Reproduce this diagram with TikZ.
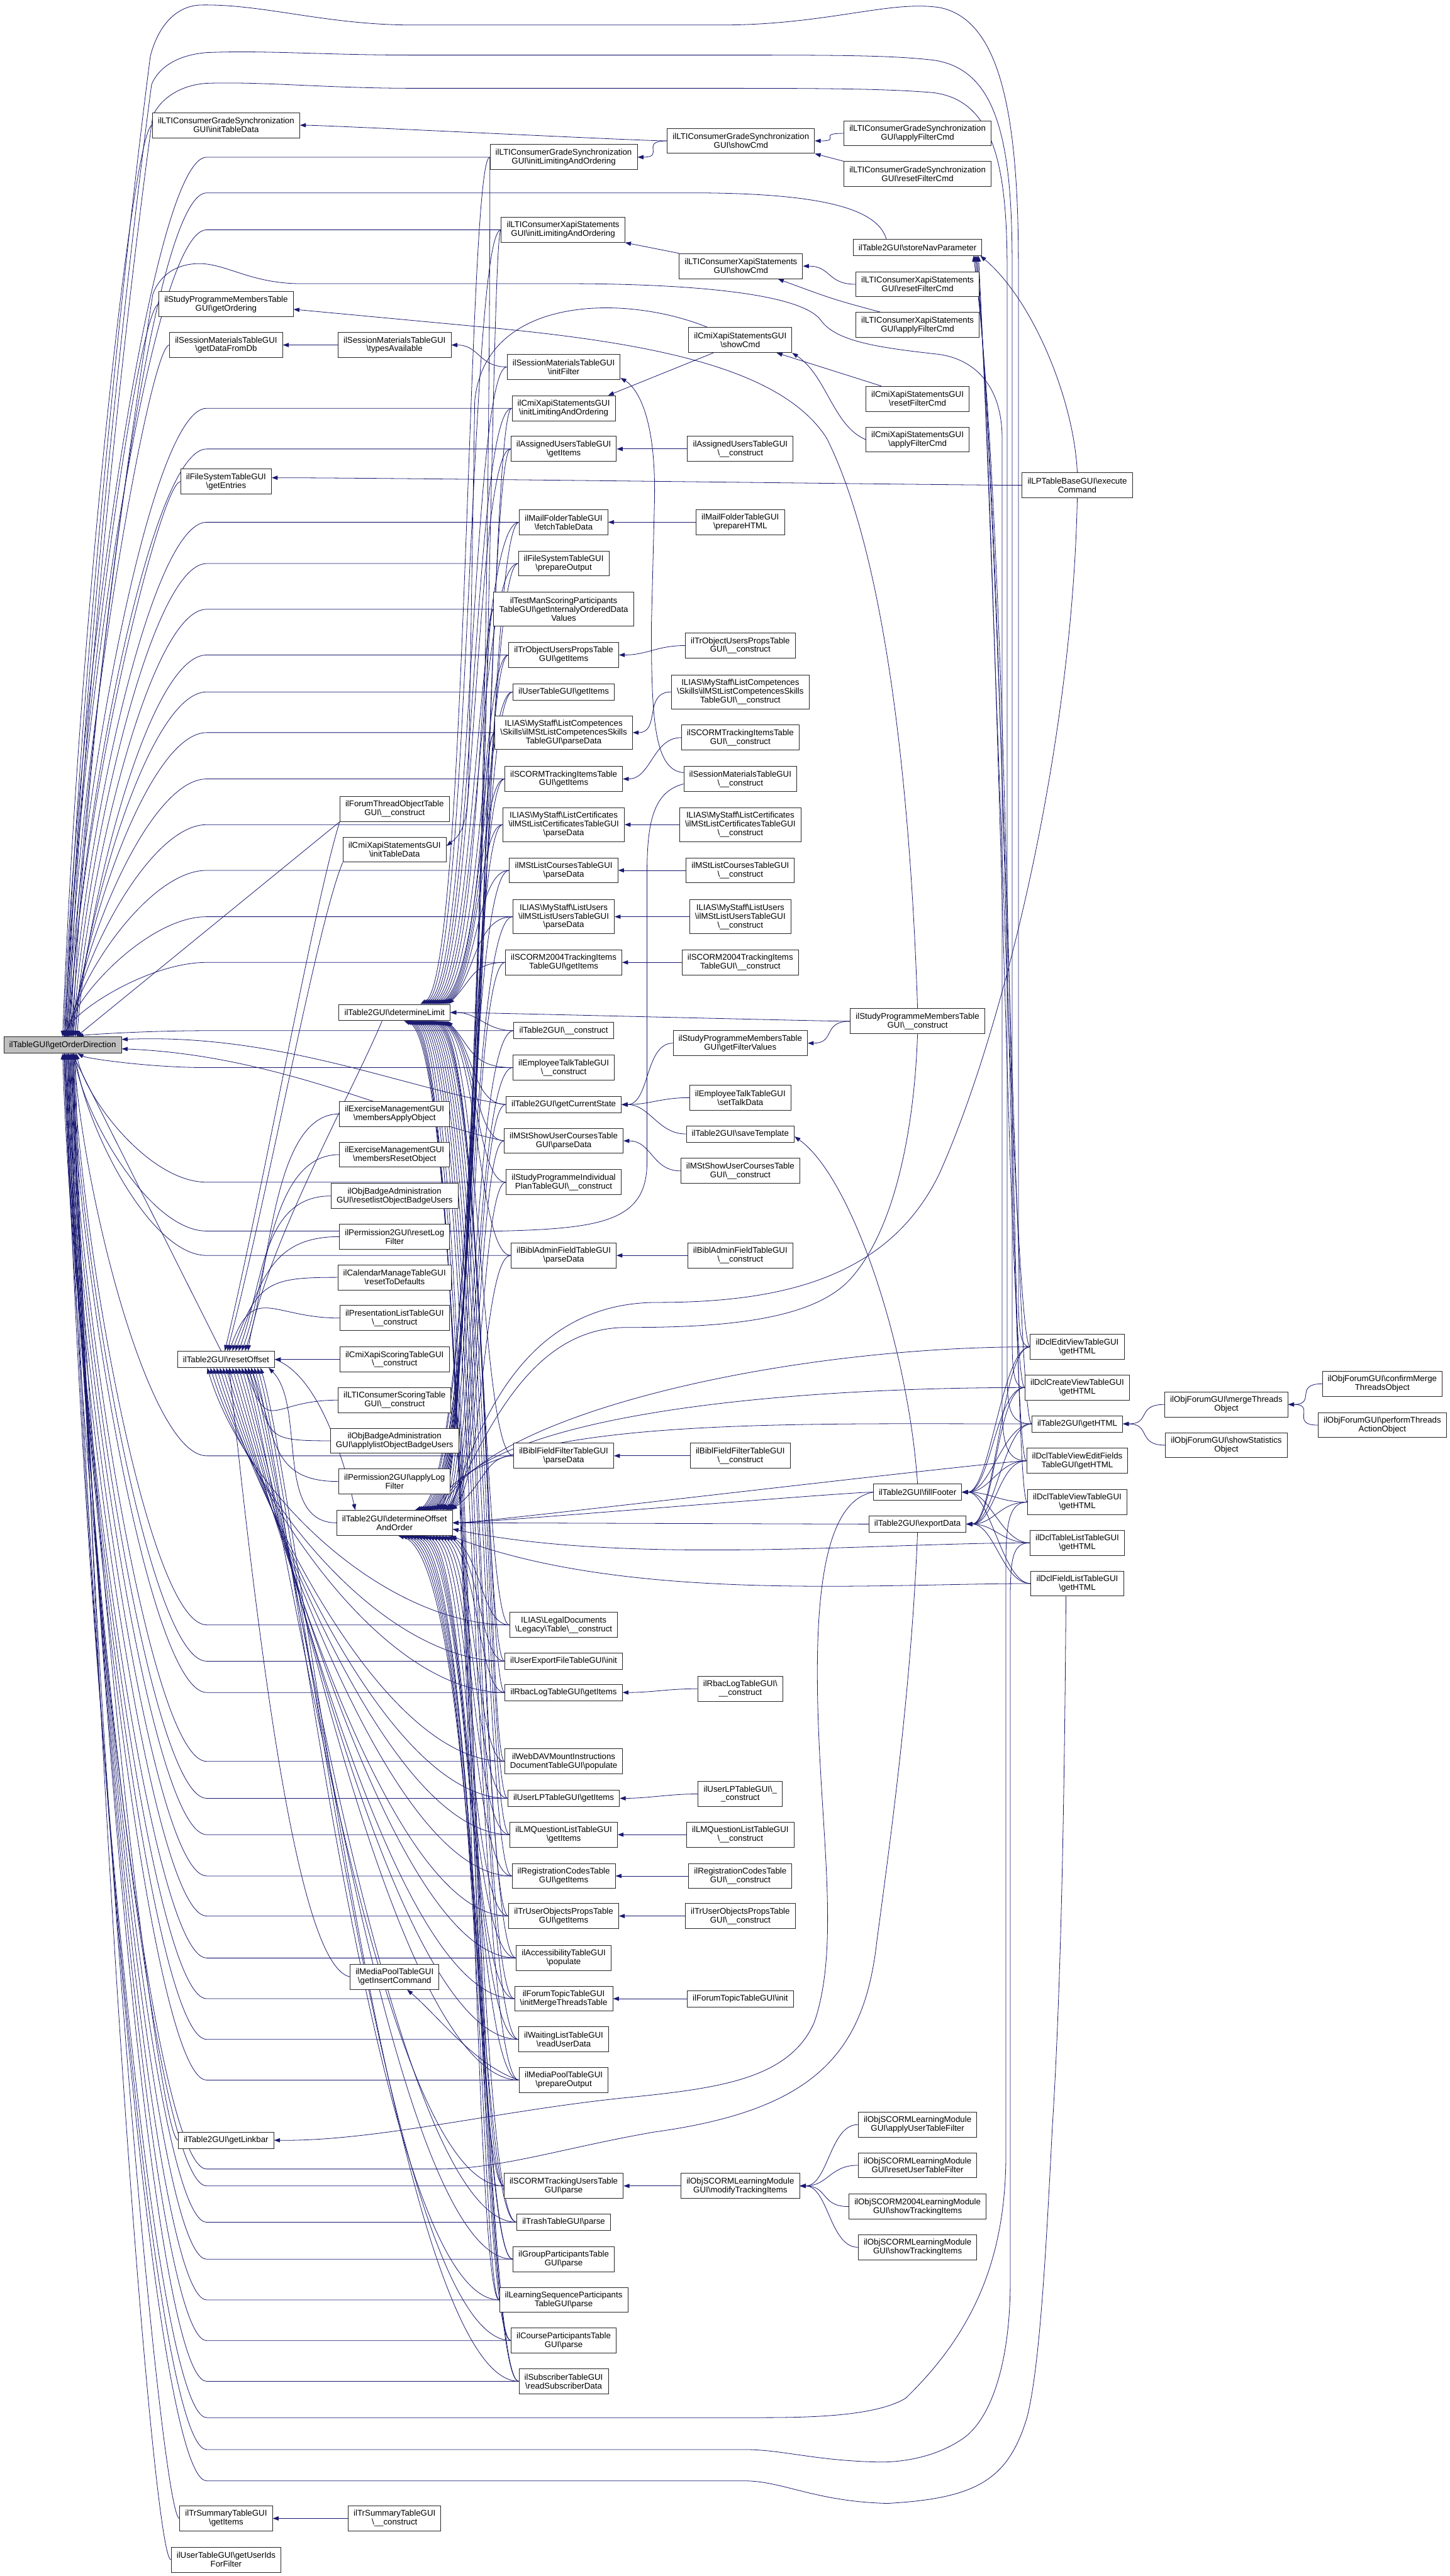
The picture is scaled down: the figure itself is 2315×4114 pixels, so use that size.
\documentclass[tikz,border=0pt]{standalone}
\usepackage{fontspec}
\setmainfont{Liberation Sans}
\usetikzlibrary{arrows.meta,calc,backgrounds}
\definecolor{edgec}{RGB}{25,25,112}
\definecolor{rootfill}{RGB}{191,191,191}
\newcommand{\BSx}{\textbackslash}
\newcommand{\UUx}{\_\_}
\tikzset{
  nd/.style={draw=black!85, fill=white, line width=0.75pt, align=center, font=\fontsize{10}{10.5}\selectfont, inner xsep=6.5pt, inner ysep=0pt},
  lA/.style={nd, minimum height=19.5pt},
  lB/.style={nd, minimum height=30pt},
  lC/.style={nd, minimum height=40.5pt},
  cg/.style={draw=edgec, line width=0.6pt, -{Triangle[length=7pt,width=5pt]}},
}
\newcommand{\cgL}[2]{\draw[cg] (#1.west) .. controls +(-45,0) and +(45,0) .. (#2.east);}
\newcommand{\cgA}[4]{\draw[cg] (#1.west) .. controls ($(#1.west -| v0)+(#4,0)$) and ($(#2.north east -| v0)+(#4,-40)$) .. ($(#2.north east)+(#3,0)$);}
\newcommand{\cgB}[4]{\draw[cg] (#1.west) .. controls ($(#1.west -| v0)+(#4,0)$) and ($(#2.south east -| v0)+(#4,40)$) .. ($(#2.south east)+(#3,0)$);}
\newcommand{\cgTop}[2]{\draw[cg] (#1) -- (#1 -| xE) .. controls (#1 -| xC) and ($(RT)!0.35!(RT |- #1)+(#2+15,0)$) .. ($(RT)+(#2,0)$);}
\newcommand{\cgBot}[2]{\draw[cg] (#1) -- (#1 -| xE) .. controls (#1 -| xC) and ($(RB)!0.35!(RB |- #1)+(#2+15,0)$) .. ($(RB)+(#2,0)$);}
\newcommand{\cgCTop}[2]{\draw[cg] (#1.west) .. controls +(-30,0) and ($(RT)!0.45!(RT |- #1.west)+(#2+25,0)$) .. ($(RT)+(#2,0)$);}
\newcommand{\cgCBot}[2]{\draw[cg] (#1.west) .. controls +(-30,0) and ($(RB)!0.45!(RB |- #1.west)+(#2+25,0)$) .. ($(RB)+(#2,0)$);}
\newcommand{\cgRa}[2]{\draw[cg] (#1.west) .. controls +(-110,0) and +(40,-110) .. ($(resetOff.north)+(#2,0)$);}
\newcommand{\cgRb}[2]{\draw[cg] (#1.west) .. controls +(-110,0) and +(40,110) .. ($(resetOff.south)+(#2,0)$);}
\newcommand{\cgRB}[2]{\draw[cg] (#1.west) .. controls +(-200,0) and +(60,200) .. ($(resetOff.south)+(#2,0)$);}
\newcommand{\cgDO}[2]{\draw[cg] (#1.west) .. controls +(-400,0) and +(60,-150) .. ($(detOff.north east)+(#2,0)$);}
\newcommand{\cgSN}[3]{\draw[cg] (#1.west) .. controls +(-25,0) and (#3,900) .. ($(storeNav.south east)+(#2,0)$);}

\begin{document}
\begin{tikzpicture}[x=0.75pt,y=-0.75pt]
\useasboundingbox (0,0) rectangle (2315,4114);
% ---------------- column 0
\node[lA, fill=rootfill] (rootN) at (100,1669) {ilTableGUI\BSx getOrderDirection};
% ---------------- column 1
\node[lB] (ltiInitTD) at (361,200) {ilLTIConsumerGradeSynchronization\\GUI\BSx initTableData};
\node[lB] (spmOrd) at (361,486) {ilStudyProgrammeMembersTable\\GUI\BSx getOrdering};
\node[lB] (smData) at (361,551) {ilSessionMaterialsTableGUI\\\BSx getDataFromDb};
\node[lB] (fsEnt) at (361,769) {ilFileSystemTableGUI\\\BSx getEntries};
\node[lA] (resetOff) at (361,2171) {ilTable2GUI\BSx resetOffset};
\node[lA] (linkbar) at (361,3418) {ilTable2GUI\BSx getLinkbar};
\node[lB] (trsItems) at (361,4022) {ilTrSummaryTableGUI\\\BSx getItems};
\node[lB] (utUids) at (361,4088) {ilUserTableGUI\BSx getUserIds\\ForFilter};
% ---------------- column 2
\node[lB] (smTypes) at (630,551) {ilSessionMaterialsTableGUI\\\BSx typesAvailable};
\node[lB] (ftot) at (630,1292) {ilForumThreadObjectTable\\GUI\BSx\UUx construct};
\node[lB] (cmiTD) at (630,1357) {ilCmiXapiStatementsGUI\\\BSx initTableData};
\node[lA] (detLimit) at (630,1617) {ilTable2GUI\BSx determineLimit};
\node[lB] (exApply) at (630,1779) {ilExerciseManagementGUI\\\BSx membersApplyObject};
\node[lB] (exReset) at (630,1844) {ilExerciseManagementGUI\\\BSx membersResetObject};
\node[lB] (bdgReset) at (630,1910) {ilObjBadgeAdministration\\GUI\BSx resetlistObjectBadgeUsers};
\node[lB] (permReset) at (630,1975) {ilPermission2GUI\BSx resetLog\\Filter};
\node[lB] (calReset) at (630,2040) {ilCalendarManageTableGUI\\\BSx resetToDefaults};
\node[lB] (presList) at (630,2105) {ilPresentationListTableGUI\\\BSx\UUx construct};
\node[lB] (cmiScore) at (630,2171) {ilCmiXapiScoringTableGUI\\\BSx\UUx construct};
\node[lB] (ltiScore) at (630,2236) {ilLTIConsumerScoringTable\\GUI\BSx\UUx construct};
\node[lB] (bdgApply) at (630,2301) {ilObjBadgeAdministration\\GUI\BSx applylistObjectBadgeUsers};
\node[lB] (permApply) at (630,2366) {ilPermission2GUI\BSx applyLog\\Filter};
\node[lB] (detOff) at (630,2432) {ilTable2GUI\BSx determineOffset\\AndOrder};
\node[lB] (mpInsert) at (630,3157) {ilMediaPoolTableGUI\\\BSx getInsertCommand};
\node[lB] (trsCons) at (630,4022) {ilTrSummaryTableGUI\\\BSx\UUx construct};
% ---------------- column 3
\node[lB] (ltiLim) at (900,251) {ilLTIConsumerGradeSynchronization\\GUI\BSx initLimitingAndOrdering};
\node[lB] (ltixLim) at (899,367) {ilLTIConsumerXapiStatements\\GUI\BSx initLimitingAndOrdering};
\node[lB] (smFilter) at (900,586) {ilSessionMaterialsTableGUI\\\BSx initFilter};
\node[lB] (cmiLim) at (900,652) {ilCmiXapiStatementsGUI\\\BSx initLimitingAndOrdering};
\node[lB] (auItems) at (900,717) {ilAssignedUsersTableGUI\\\BSx getItems};
\node[lB] (mfFetch) at (900,834) {ilMailFolderTableGUI\\\BSx fetchTableData};
\node[lB] (fsPrep) at (900,900) {ilFileSystemTableGUI\\\BSx prepareOutput};
\node[lC] (tms) at (900,973) {ilTestManScoringParticipants\\TableGUI\BSx getInternalyOrderedData\\Values};
\node[lB] (trouItems) at (900,1046) {ilTrObjectUsersPropsTable\\GUI\BSx getItems};
\node[lA] (utItems) at (900,1105) {ilUserTableGUI\BSx getItems};
\node[lC] (compParse) at (900,1170) {ILIAS\BSx MyStaff\BSx ListCompetences\\\BSx Skills\BSx ilMStListCompetencesSkills\\TableGUI\BSx parseData};
\node[lB] (sctiItems) at (900,1244) {ilSCORMTrackingItemsTable\\GUI\BSx getItems};
\node[lC] (certParse) at (900,1317) {ILIAS\BSx MyStaff\BSx ListCertificates\\\BSx ilMStListCertificatesTableGUI\\\BSx parseData};
\node[lB] (coursesParse) at (900,1390) {ilMStListCoursesTableGUI\\\BSx parseData};
\node[lC] (usersParse) at (900,1464) {ILIAS\BSx MyStaff\BSx ListUsers\\\BSx ilMStListUsersTableGUI\\\BSx parseData};
\node[lB] (s04Items) at (900,1537) {ilSCORM2004TrackingItems\\TableGUI\BSx getItems};
\node[lA] (t2Cons) at (900,1646) {ilTable2GUI\BSx\UUx construct};
\node[lB] (etCons) at (900,1705) {ilEmployeeTalkTableGUI\\\BSx\UUx construct};
\node[lA] (curState) at (900,1764) {ilTable2GUI\BSx getCurrentState};
\node[lB] (msucParse) at (900,1822) {ilMStShowUserCoursesTable\\GUI\BSx parseData};
\node[lB] (spip) at (900,1888) {ilStudyProgrammeIndividual\\PlanTableGUI\BSx\UUx construct};
\node[lB] (bafParse) at (900,2005) {ilBiblAdminFieldTableGUI\\\BSx parseData};
\node[lB] (bffParse) at (900,2325) {ilBiblFieldFilterTableGUI\\\BSx parseData};
\node[lB] (legal) at (900,2595) {ILIAS\BSx LegalDocuments\\\BSx Legacy\BSx Table\BSx\UUx construct};
\node[lA] (uefInit) at (900,2653) {ilUserExportFileTableGUI\BSx init};
\node[lA] (rbacItems) at (900,2703) {ilRbacLogTableGUI\BSx getItems};
\node[lB] (webdav) at (900,2813) {ilWebDAVMountInstructions\\DocumentTableGUI\BSx populate};
\node[lA] (ulpItems) at (900,2872) {ilUserLPTableGUI\BSx getItems};
\node[lB] (lmqItems) at (900,2930) {ilLMQuestionListTableGUI\\\BSx getItems};
\node[lB] (rcItems) at (900,2996) {ilRegistrationCodesTable\\GUI\BSx getItems};
\node[lB] (truoItems) at (900,3060) {ilTrUserObjectsPropsTable\\GUI\BSx getItems};
\node[lB] (accPop) at (900,3127) {ilAccessibilityTableGUI\\\BSx populate};
\node[lB] (fttMerge) at (900,3192) {ilForumTopicTableGUI\\\BSx initMergeThreadsTable};
\node[lB] (wlRead) at (900,3257) {ilWaitingListTableGUI\\\BSx readUserData};
\node[lB] (mpPrep) at (900,3322) {ilMediaPoolTableGUI\\\BSx prepareOutput};
\node[lB] (sctuParse) at (900,3491) {ilSCORMTrackingUsersTable\\GUI\BSx parse};
\node[lA] (trashParse) at (900,3549) {ilTrashTableGUI\BSx parse};
\node[lB] (gpParse) at (900,3608) {ilGroupParticipantsTable\\GUI\BSx parse};
\node[lB] (lspParse) at (900,3673) {ilLearningSequenceParticipants\\TableGUI\BSx parse};
\node[lB] (cpParse) at (900,3738) {ilCourseParticipantsTable\\GUI\BSx parse};
\node[lB] (subRead) at (900,3803) {ilSubscriberTableGUI\\\BSx readSubscriberData};
% ---------------- column 4
\node[lB] (ltiShow) at (1183,225) {ilLTIConsumerGradeSynchronization\\GUI\BSx showCmd};
\node[lB] (ltixShow) at (1183,425) {ilLTIConsumerXapiStatements\\GUI\BSx showCmd};
\node[lB] (cmiShow) at (1182,543) {ilCmiXapiStatementsGUI\\\BSx showCmd};
\node[lB] (auCons) at (1182,717) {ilAssignedUsersTableGUI\\\BSx\UUx construct};
\node[lB] (mfPrep) at (1182,834) {ilMailFolderTableGUI\\\BSx prepareHTML};
\node[lB] (trouCons) at (1182,1031) {ilTrObjectUsersPropsTable\\GUI\BSx\UUx construct};
\node[lC] (compCons) at (1182,1105) {ILIAS\BSx MyStaff\BSx ListCompetences\\\BSx Skills\BSx ilMStListCompetencesSkills\\TableGUI\BSx\UUx construct};
\node[lB] (sctiCons) at (1182,1178) {ilSCORMTrackingItemsTable\\GUI\BSx\UUx construct};
\node[lB] (smCons) at (1182,1244) {ilSessionMaterialsTableGUI\\\BSx\UUx construct};
\node[lC] (certCons) at (1182,1317) {ILIAS\BSx MyStaff\BSx ListCertificates\\\BSx ilMStListCertificatesTableGUI\\\BSx\UUx construct};
\node[lB] (coursesCons) at (1182,1390) {ilMStListCoursesTableGUI\\\BSx\UUx construct};
\node[lC] (usersCons) at (1182,1464) {ILIAS\BSx MyStaff\BSx ListUsers\\\BSx ilMStListUsersTableGUI\\\BSx\UUx construct};
\node[lB] (s04Cons) at (1182,1537) {ilSCORM2004TrackingItems\\TableGUI\BSx\UUx construct};
\node[lB] (spmFilter) at (1182,1666) {ilStudyProgrammeMembersTable\\GUI\BSx getFilterValues};
\node[lB] (etTalk) at (1182,1753) {ilEmployeeTalkTableGUI\\\BSx setTalkData};
\node[lA] (saveTpl) at (1182,1811) {ilTable2GUI\BSx saveTemplate};
\node[lB] (msucCons) at (1182,1870) {ilMStShowUserCoursesTable\\GUI\BSx\UUx construct};
\node[lB] (bafCons) at (1182,2005) {ilBiblAdminFieldTableGUI\\\BSx\UUx construct};
\node[lB] (bffCons) at (1182,2325) {ilBiblFieldFilterTableGUI\\\BSx\UUx construct};
\node[lB] (rbacCons) at (1182,2697) {ilRbacLogTableGUI\BSx\\\UUx construct};
\node[lB] (ulpCons) at (1182,2865) {ilUserLPTableGUI\BSx\_\\\_construct};
\node[lB] (lmqCons) at (1182,2930) {ilLMQuestionListTableGUI\\\BSx\UUx construct};
\node[lB] (rcCons) at (1182,2996) {ilRegistrationCodesTable\\GUI\BSx\UUx construct};
\node[lB] (truoCons) at (1182,3060) {ilTrUserObjectsPropsTable\\GUI\BSx\UUx construct};
\node[lA] (fttInit) at (1182,3192) {ilForumTopicTableGUI\BSx init};
\node[lB] (scModify) at (1182,3491) {ilObjSCORMLearningModule\\GUI\BSx modifyTrackingItems};
% ---------------- column 5
\node[lB] (ltiApply) at (1465,213) {ilLTIConsumerGradeSynchronization\\GUI\BSx applyFilterCmd};
\node[lB] (ltiReset) at (1465,278) {ilLTIConsumerGradeSynchronization\\GUI\BSx resetFilterCmd};
\node[lA] (storeNav) at (1465,395) {ilTable2GUI\BSx storeNavParameter};
\node[lB] (ltixReset) at (1465,454) {ilLTIConsumerXapiStatements\\GUI\BSx resetFilterCmd};
\node[lB] (ltixApply) at (1465,519) {ilLTIConsumerXapiStatements\\GUI\BSx applyFilterCmd};
\node[lB] (cmiReset) at (1465,637) {ilCmiXapiStatementsGUI\\\BSx resetFilterCmd};
\node[lB] (cmiApply) at (1465,702) {ilCmiXapiStatementsGUI\\\BSx applyFilterCmd};
\node[lB] (spmCons) at (1465,1631) {ilStudyProgrammeMembersTable\\GUI\BSx\UUx construct};
\node[lA] (fillFooter) at (1465,2383) {ilTable2GUI\BSx fillFooter};
\node[lA] (exportData) at (1465,2434) {ilTable2GUI\BSx exportData};
\node[lB] (scApplyF) at (1465,3393) {ilObjSCORMLearningModule\\GUI\BSx applyUserTableFilter};
\node[lB] (scResetF) at (1465,3458) {ilObjSCORMLearningModule\\GUI\BSx resetUserTableFilter};
\node[lB] (sc04Show) at (1465,3524) {ilObjSCORM2004LearningModule\\GUI\BSx showTrackingItems};
\node[lB] (scShow) at (1465,3589) {ilObjSCORMLearningModule\\GUI\BSx showTrackingItems};
% ---------------- column 6
\node[lB] (lpExec) at (1720,775) {ilLPTableBaseGUI\BSx execute\\Command};
\node[lB] (dclEdit) at (1720,2151) {ilDclEditViewTableGUI\\\BSx getHTML};
\node[lB] (dclCreate) at (1720,2216) {ilDclCreateViewTableGUI\\\BSx getHTML};
\node[lA] (getHTML) at (1720,2274) {ilTable2GUI\BSx getHTML};
\node[lB] (dclTVEF) at (1720,2333) {ilDclTableViewEditFields\\TableGUI\BSx getHTML};
\node[lB] (dclTV) at (1720,2399) {ilDclTableViewTableGUI\\\BSx getHTML};
\node[lB] (dclTL) at (1720,2464) {ilDclTableListTableGUI\\\BSx getHTML};
\node[lB] (dclFL) at (1720,2529) {ilDclFieldListTableGUI\\\BSx getHTML};
% ---------------- column 7/8
\node[lB] (fMerge) at (1958,2243) {ilObjForumGUI\BSx mergeThreads\\Object};
\node[lB] (fStats) at (1958,2308) {ilObjForumGUI\BSx showStatistics\\Object};
\node[lB] (fConfirm) at (2207,2210) {ilObjForumGUI\BSx confirmMerge\\ThreadsObject};
\node[lB] (fPerform) at (2207,2276) {ilObjForumGUI\BSx performThreads\\ActionObject};

\coordinate (RT) at (rootN.north);
\coordinate (RB) at (rootN.south);
\coordinate (xE) at (330,0);
\coordinate (xC) at (238,0);
\coordinate (v0) at (0,0);

\begin{pgfonlayer}{background}
\fill[white] (0,0) rectangle (2315,4114);
% ===== local chains
\cgL{ltiShow}{ltiInitTD}
\cgL{ltiShow}{ltiLim}
\cgL{ltiApply}{ltiShow}
\draw[cg] (ltiReset.north west) -- (ltiShow.south east);
\draw[cg] (ltixShow.north west) -- (ltixLim.south east);
\cgL{ltixReset}{ltixShow}
\draw[cg] ($(ltixApply.north west)+(40,0)$) .. controls (1330,478) .. ($(ltixShow.south east)+(-40,0)$);
\draw[cg] ($(cmiShow.south west)+(40,0)$) -- ($(cmiLim.north east)+(-12,0)$);
\draw[cg] ($(cmiReset.north west)+(25,0)$) -- ($(cmiShow.south east)+(-25,0)$);
\draw[cg] (cmiApply.west) .. controls (1330,680) and (1320,600) .. (cmiShow.south east);
\draw[cg] ($(cmiShow.north west)+(30,0)$) .. controls (1000,470) and (775,470) .. (758,640) -- (748,1250) .. controls (746,1310) and (740,1330) .. ($(cmiTD.east)+(0,-6)$);
\draw[cg] (spmCons.north) .. controls (1455,1300) and (1420,900) .. (1320,700) .. controls (1250,590) and (1050,550) .. (800,525) -- ($(spmOrd.east)+(0,8)$);
\cgL{smTypes}{smData}
\cgL{smFilter}{smTypes}
\draw[cg] ($(smCons.west)+(0,-10)$) .. controls (1045,1230) and (1040,1150) .. (1040,1000) -- (1045,800) .. controls (1048,650) and (1010,615) .. ($(smFilter.south east)+(0,-3)$);
\draw[cg] ($(smCons.west)+(0,8)$) .. controls (1040,1265) and (1033,1320) .. (1033,1400) -- (1033,1860) .. controls (1031,1950) and (960,1962) .. (800,1966) -- (330,1966) .. controls (238,1966) and (133,1781) .. ($(RB)+(18,0)$);
\cgL{auCons}{auItems}
\cgL{mfPrep}{mfFetch}
\cgL{trouCons}{trouItems}
\cgL{compCons}{compParse}
\cgL{sctiCons}{sctiItems}
\cgL{certCons}{certParse}
\cgL{coursesCons}{coursesParse}
\cgL{usersCons}{usersParse}
\cgL{s04Cons}{s04Items}
\cgL{spmFilter}{curState}
\cgL{spmCons}{spmFilter}
\cgL{etTalk}{curState}
\cgL{saveTpl}{curState}
\cgL{msucCons}{msucParse}
\cgL{bafCons}{bafParse}
\cgL{bffCons}{bffParse}
\cgL{rbacCons}{rbacItems}
\cgL{ulpCons}{ulpItems}
\cgL{lmqCons}{lmqItems}
\cgL{rcCons}{rcItems}
\cgL{truoCons}{truoItems}
\cgL{fttInit}{fttMerge}
\cgL{scModify}{sctuParse}
\cgL{scApplyF}{scModify}
\cgL{scResetF}{scModify}
\cgL{sc04Show}{scModify}
\cgL{scShow}{scModify}
\cgL{trsCons}{trsItems}
\cgL{fMerge}{getHTML}
\cgL{fStats}{getHTML}
\cgL{fConfirm}{fMerge}
\cgL{fPerform}{fMerge}
\cgL{spmCons}{detLimit}
\cgL{t2Cons}{detLimit}
\draw[cg] (mpPrep.west) .. controls (760,3300) and (700,3220) .. ($(mpInsert.south)+(20,0)$);
\draw[cg] (fillFooter.north) .. controls (1450,2150) and (1360,1880) .. ($(saveTpl.east)+(0,4)$);
% ===== far right
\draw[cg] (lpExec.north) .. controls (1715,640) and (1650,480) .. ($(storeNav.south east)+(-3,0)$);
\draw[cg] (lpExec.west) .. controls +(-100,0) and +(200,0) .. ($(fsEnt.east)+(0,-6)$);
\draw[cg] (lpExec.south) .. controls (1712,1200) and (1600,1650) .. (1500,1874) .. controls (1420,2040) and (1250,2080) .. (1050,2080) .. controls (850,2080) and (770,2250) .. ($(detOff.north east)+(-3,0)$);
\draw[cg] (spmCons.south) .. controls (1460,1800) and (1430,1960) .. (1360,2040) .. controls (1300,2110) and (1150,2120) .. (1000,2120) .. controls (850,2120) and (780,2280) .. ($(detOff.north east)+(-8,0)$);
\cgSN{dclEdit}{-6}{1588}
\cgSN{dclCreate}{-8}{1595}
\cgSN{getHTML}{-10}{1602}
\cgSN{dclTVEF}{-12}{1610}
\cgSN{dclTV}{-14}{1618}
\foreach \nn in {dclEdit,dclCreate,getHTML,dclTVEF,dclTV,dclTL,dclFL} {
  \cgL{\nn}{fillFooter}
  \cgL{\nn}{exportData}
}
\cgL{fillFooter}{detOff}
\cgL{exportData}{detOff}
\cgDO{dclEdit}{-15}
\cgDO{dclCreate}{-20}
\cgDO{getHTML}{-25}
\cgL{dclTVEF}{detOff}
\draw[cg] (dclTL.west) .. controls (1400,2464) and (1000,2500) .. ($(detOff.east)+(0,10)$);
\draw[cg] (dclFL.west) .. controls (1400,2529) and (1000,2560) .. ($(detOff.south east)+(-4,0)$);
\draw[cg] (fillFooter.west) .. controls (1330,2395) and (1305,2500) .. (1305,2670) .. controls (1305,2900) and (1345,3100) .. (1300,3230) .. controls (1260,3320) and (1150,3335) .. (1000,3350) .. controls (800,3370) and (600,3420) .. (linkbar.east);
\draw[cg] (exportData.south) .. controls (1455,2700) and (1420,2950) .. (1400,3100) .. controls (1380,3280) and (1300,3370) .. (1044,3405) .. controls (900,3430) and (800,3464) .. (700,3464) -- (330,3464) .. controls (238,3464) and (118,2306) .. ($(RB)+(3,0)$);
% over the top
\draw[cg] (dclEdit.west) .. controls (1628,2151) and (1626,2120) .. (1626,2060) -- (1626,420) .. controls (1626,160) and (1590,30) .. (1500,12) .. controls (1420,0) and (1320,40) .. (1150,40) -- (660,40) .. controls (520,40) and (420,6) .. (320,8) .. controls (275,10) and (250,50) .. (240,90) .. controls (200,400) and (125,1100) .. ($(RT)+(4,0)$);
\draw[cg] (dclCreate.west) .. controls (1618,2216) and (1616,2190) .. (1616,2130) -- (1616,420) .. controls (1616,220) and (1590,110) .. (1490,96) .. controls (1420,88) and (1330,88) .. (1150,88) -- (660,88) .. controls (520,88) and (420,80) .. (330,84) .. controls (280,88) and (252,110) .. (242,135) .. controls (200,450) and (125,1150) .. ($(RT)+(7,0)$);
\draw[cg] (getHTML.west) .. controls (1612,2274) and (1608,2250) .. (1608,2190) -- (1608,430) .. controls (1608,260) and (1585,160) .. (1490,148) .. controls (1420,142) and (1330,141) .. (1150,141) -- (660,141) .. controls (520,141) and (420,130) .. (330,133) .. controls (285,136) and (255,160) .. (244,185) .. controls (200,500) and (125,1200) .. ($(RT)+(10,0)$);
\draw[cg] (dclTVEF.west) .. controls (1605,2333) and (1600,2300) .. (1600,2240) -- (1600,700) .. controls (1600,620) and (1560,575) .. (1500,566) .. controls (1400,555) and (1335,545) .. (1311,512) .. controls (1280,468) and (1100,453) .. (900,453) -- (480,453) .. controls (400,453) and (360,420) .. (316,421) .. controls (280,422) and (255,440) .. (244,470) .. controls (200,750) and (125,1300) .. ($(RT)+(13,0)$);
\draw[cg] ($(storeNav.north)+(-50,0)$) .. controls (1400,330) and (1300,308) .. (1100,308) -- (330,308) .. controls (238,308) and (135,1184) .. ($(RT)+(16,0)$);
% under the bottom
\draw[cg] (dclTV.west) .. controls (1612,2399) and (1606,2430) .. (1606,2500) -- (1606,3450) .. controls (1604,3600) and (1560,3720) .. (1446,3830) .. controls (1400,3858) and (1300,3861) .. (1217,3861) -- (330,3861) .. controls (238,3861) and (121,2445) .. ($(RB)+(6,0)$);
\draw[cg] (dclTL.west) .. controls (1616,2464) and (1613,2490) .. (1613,2560) -- (1613,3650) .. controls (1612,3780) and (1580,3870) .. (1532,3898) .. controls (1490,3925) and (1440,3932) .. (1406,3932) .. controls (1300,3930) and (1250,3912) .. (1188,3912) -- (330,3912) .. controls (238,3912) and (124,2463) .. ($(RB)+(9,0)$);
\draw[cg] ($(dclFL.south)+(-18,0)$) .. controls (1700,2800) and (1696,3150) .. (1680,3400) .. controls (1670,3600) and (1660,3780) .. (1640,3860) .. controls (1610,3960) and (1560,3990) .. (1417,3998) .. controls (1300,3995) and (1250,3962) .. (1188,3962) -- (330,3962) .. controls (238,3962) and (127,2480) .. ($(RB)+(12,0)$);
% ===== column 1 to root
\cgCTop{ltiInitTD}{0}
\cgCTop{spmOrd}{3}
\cgCTop{smData}{6}
\cgCTop{fsEnt}{9}
\cgCBot{linkbar}{14}
\cgCBot{trsItems}{17}
\cgCBot{utUids}{20}
\draw[cg] ($(resetOff.north)+(-8,0)$) -- ($(RB)+(15,0)$);
\draw[cg] (ftot.south west) -- ($(RT)+(22,0)$);
\draw[cg] (curState.west) .. controls (650,1740) and (450,1650) .. ($(rootN.east)+(0,-9)$);
\draw[cg] (msucParse.west) .. controls (650,1790) and (450,1685) .. ($(rootN.east)+(0,6)$);
% ===== column 3 to root (top)
\cgTop{ltiLim.west}{2}
\cgTop{ltixLim.west}{5}
\cgTop{cmiLim.west}{8}
\cgTop{auItems.west}{11}
\cgTop{mfFetch.west}{14}
\cgTop{fsPrep.west}{17}
\cgTop{tms.west}{20}
\cgTop{trouItems.west}{23}
\cgTop{utItems.west}{20}
\cgTop{compParse.west}{17}
\cgTop{sctiItems.west}{14}
\cgTop{certParse.west}{11}
\cgTop{coursesParse.west}{8}
\cgTop{usersParse.west}{5}
\cgTop{s04Items.west}{2}
\cgTop{t2Cons.west}{24}
% ===== column 3 to root (bottom)
\cgBot{etCons.west}{24}
\cgBot{spip.west}{22}
\cgBot{bafParse.west}{20}
\cgBot{bffParse.west}{18}
\cgBot{legal.west}{16}
\cgBot{uefInit.west}{14}
\cgBot{rbacItems.west}{12}
\cgBot{webdav.west}{10}
\cgBot{ulpItems.west}{8}
\cgBot{lmqItems.west}{6}
\cgBot{rcItems.west}{4}
\cgBot{truoItems.west}{2}
\cgBot{accPop.west}{0}
\cgBot{fttMerge.west}{2}
\cgBot{wlRead.west}{4}
\cgBot{mpPrep.west}{6}
\cgBot{sctuParse.west}{8}
\cgBot{trashParse.west}{10}
\cgBot{gpParse.west}{12}
\cgBot{lspParse.west}{14}
\cgBot{cpParse.west}{16}
\cgBot{subRead.west}{18}
% ===== to determineLimit
\cgA{ltiLim}{detLimit}{-48}{746}
\cgA{ltixLim}{detLimit}{-45}{749}
\cgA{smFilter}{detLimit}{-42}{752}
\cgA{cmiLim}{detLimit}{-39}{755}
\cgA{auItems}{detLimit}{-36}{758}
\cgA{mfFetch}{detLimit}{-33}{761}
\cgA{fsPrep}{detLimit}{-30}{764}
\cgA{tms}{detLimit}{-27}{767}
\cgA{trouItems}{detLimit}{-24}{770}
\cgA{utItems}{detLimit}{-21}{773}
\cgA{compParse}{detLimit}{-18}{770}
\cgA{sctiItems}{detLimit}{-15}{767}
\cgA{certParse}{detLimit}{-12}{764}
\cgA{coursesParse}{detLimit}{-9}{761}
\cgA{usersParse}{detLimit}{-6}{758}
\cgA{s04Items}{detLimit}{-3}{755}
\cgB{etCons}{detLimit}{-5}{752}
\cgB{curState}{detLimit}{-8}{755}
\cgB{msucParse}{detLimit}{-11}{758}
\cgB{spip}{detLimit}{-14}{761}
\cgB{bafParse}{detLimit}{-17}{764}
\cgB{bffParse}{detLimit}{-20}{767}
\cgB{legal}{detLimit}{-23}{770}
\cgB{uefInit}{detLimit}{-26}{773}
\cgB{rbacItems}{detLimit}{-29}{776}
\cgB{webdav}{detLimit}{-32}{779}
\cgB{ulpItems}{detLimit}{-35}{776}
\cgB{lmqItems}{detLimit}{-38}{773}
\cgB{rcItems}{detLimit}{-41}{770}
\cgB{truoItems}{detLimit}{-44}{767}
\cgB{accPop}{detLimit}{-47}{764}
\cgB{fttMerge}{detLimit}{-50}{761}
\cgB{wlRead}{detLimit}{-53}{758}
\cgB{mpPrep}{detLimit}{-56}{755}
\cgB{sctuParse}{detLimit}{-59}{752}
\cgB{trashParse}{detLimit}{-62}{749}
\cgB{gpParse}{detLimit}{-65}{746}
\cgB{lspParse}{detLimit}{-68}{749}
\cgB{cpParse}{detLimit}{-71}{752}
\cgB{subRead}{detLimit}{-74}{755}
% ===== to determineOffsetAndOrder
\cgA{ltiLim}{detOff}{-60}{783}
\cgA{ltixLim}{detOff}{-57}{780}
\cgA{cmiLim}{detOff}{-54}{777}
\cgA{auItems}{detOff}{-51}{774}
\cgA{mfFetch}{detOff}{-48}{771}
\cgA{fsPrep}{detOff}{-45}{768}
\cgA{tms}{detOff}{-42}{765}
\cgA{trouItems}{detOff}{-39}{762}
\cgA{utItems}{detOff}{-36}{759}
\cgA{compParse}{detOff}{-33}{756}
\cgA{sctiItems}{detOff}{-30}{753}
\cgA{certParse}{detOff}{-27}{750}
\cgA{coursesParse}{detOff}{-24}{747}
\cgA{usersParse}{detOff}{-21}{750}
\cgA{s04Items}{detOff}{-18}{753}
\cgA{t2Cons}{detOff}{-15}{756}
\cgA{etCons}{detOff}{-12}{759}
\cgA{curState}{detOff}{-10}{762}
\cgA{msucParse}{detOff}{-8}{765}
\cgA{spip}{detOff}{-6}{768}
\cgA{bafParse}{detOff}{-4}{771}
\cgA{bffParse}{detOff}{-2}{774}
\cgB{legal}{detOff}{-2}{770}
\cgB{uefInit}{detOff}{-7}{767}
\cgB{rbacItems}{detOff}{-12}{764}
\cgB{webdav}{detOff}{-17}{761}
\cgB{ulpItems}{detOff}{-22}{758}
\cgB{lmqItems}{detOff}{-27}{755}
\cgB{rcItems}{detOff}{-32}{752}
\cgB{truoItems}{detOff}{-37}{749}
\cgB{accPop}{detOff}{-42}{746}
\cgB{fttMerge}{detOff}{-47}{749}
\cgB{wlRead}{detOff}{-52}{752}
\cgB{mpPrep}{detOff}{-57}{755}
\cgB{sctuParse}{detOff}{-62}{758}
\cgB{trashParse}{detOff}{-67}{761}
\cgB{gpParse}{detOff}{-72}{764}
\cgB{lspParse}{detOff}{-77}{767}
\cgB{cpParse}{detOff}{-82}{770}
\cgB{subRead}{detOff}{-87}{773}
% ===== to resetOffset
\cgRa{exApply}{30}
\cgRa{exReset}{25}
\cgRa{bdgReset}{20}
\cgRa{permReset}{15}
\cgRa{calReset}{10}
\cgRa{presList}{5}
\cgL{cmiScore}{resetOff}
\cgRb{ltiScore}{30}
\cgRb{bdgApply}{35}
\cgRb{permApply}{40}
\draw[cg] (ftot.south west) .. controls (500,1450) and (420,1900) .. ($(resetOff.north)+(-2,0)$);
\draw[cg] (cmiTD.south west) .. controls (505,1480) and (430,1900) .. ($(resetOff.north)+(2,0)$);
\draw[cg] ($(detLimit.south)+(-20,0)$) .. controls (560,1750) and (420,2000) .. ($(resetOff.north)+(35,0)$);
\draw[cg] (resetOff.east) .. controls (520,2200) and (560,2380) .. ($(detOff.north west)+(30,0)$);
\draw[cg] (detOff.west) .. controls +(-100,0) and +(60,60) .. ($(resetOff.south east)+(-10,0)$);
\draw[cg] (mpInsert.west) .. controls (480,3140) and (420,2700) .. ($(resetOff.south)+(5,0)$);
\cgRB{legal}{-30}
\cgRB{uefInit}{-25}
\cgRB{rbacItems}{-20}
\cgRB{webdav}{-15}
\cgRB{ulpItems}{-10}
\cgRB{lmqItems}{-5}
\cgRB{rcItems}{0}
\cgRB{truoItems}{5}
\cgRB{accPop}{10}
\cgRB{fttMerge}{15}
\cgRB{wlRead}{20}
\cgRB{mpPrep}{25}
\cgRB{sctuParse}{30}
\cgRB{trashParse}{35}
\cgRB{gpParse}{40}
\cgRB{lspParse}{45}
\cgRB{cpParse}{50}
\cgRB{subRead}{55}
\end{pgfonlayer}
\end{tikzpicture}
\end{document}
